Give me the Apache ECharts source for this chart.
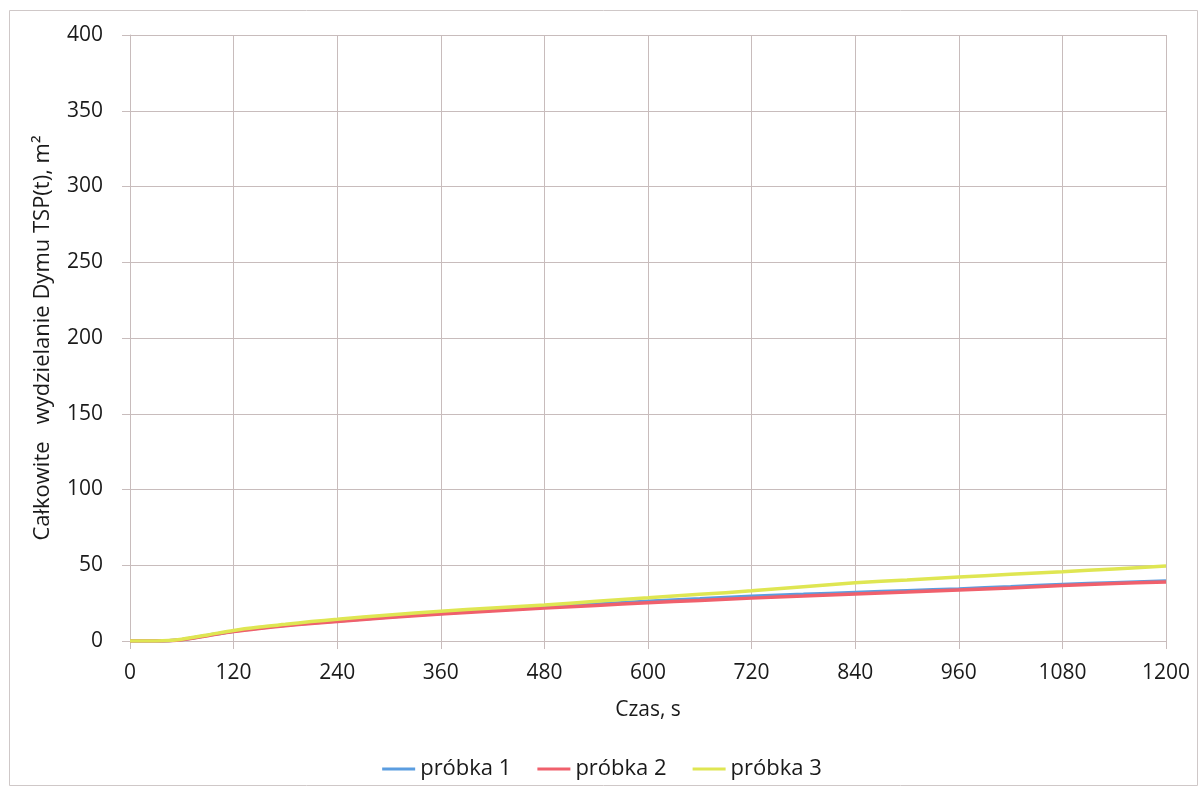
<!DOCTYPE html>
<html>
<head>
<meta charset="utf-8">
<script src="https://cdn.jsdelivr.net/npm/echarts@6/dist/echarts.min.js"></script>
<style>
  html, body { margin: 0; padding: 0; background: #ffffff; }
  #chart { width: 1204px; height: 790px; }
</style>
</head>
<body>
<div id="chart"></div>
<script>
// Time in seconds
const czas = [0, 30, 45, 60, 90, 120, 150, 180, 210, 240, 300, 360, 420, 480, 540, 600, 660, 720, 780, 840, 900, 960, 1020, 1080, 1140, 1200];

// Total smoke production TSP(t), m²
const probka1 = [0, 0, 0.2, 0.9, 3.7, 6.5, 8.6, 10.4, 11.9, 13.2, 15.9, 18.2, 20.3, 22.2, 24.2, 26.2, 27.9, 29.6, 30.8, 32.0, 33.2, 34.4, 35.8, 37.3, 38.5, 39.6];
const probka2 = [0, 0, 0.2, 0.8, 3.5, 6.2, 8.3, 10.1, 11.6, 12.9, 15.5, 17.8, 19.8, 21.7, 23.5, 25.3, 26.8, 28.3, 29.7, 31.1, 32.4, 33.7, 35.0, 36.6, 37.9, 39.0];
const probka3 = [0, 0, 0.3, 1.2, 4.0, 7.0, 9.2, 11.0, 12.8, 14.3, 17.2, 19.7, 21.8, 23.8, 26.2, 28.5, 30.8, 33.1, 35.8, 38.4, 40.3, 42.2, 44.0, 45.7, 47.6, 49.5];

const xTicks = [0, 120, 240, 360, 480, 600, 720, 840, 960, 1080, 1200];
const yTicks = [0, 50, 100, 150, 200, 250, 300, 350, 400];

const seriesNames = ['próbka 1', 'próbka 2', 'próbka 3'];
const seriesColors = ['#5b9de0', '#f0606c', '#dfe652'];

const FONT = '"Open Sans", "Noto Sans", sans-serif';
const gridColor = '#c8bcbc';

function pairs(ys) { return czas.map((t, i) => [t, ys[i]]); }

const chart = echarts.init(document.getElementById('chart'));
chart.setOption({
  animation: false,
  backgroundColor: '#ffffff',
  graphic: [{
    type: 'rect',
    shape: { x: 9.5, y: 10.5, width: 1188, height: 775 },
    style: { fill: 'none', stroke: '#cfc8c8', lineWidth: 1 },
    silent: true
  }],
  grid: { left: 130, right: 38, top: 35, bottom: 149 },
  xAxis: {
    type: 'value',
    min: xTicks[0],
    max: xTicks[xTicks.length - 1],
    interval: 120,
    name: 'Czas, s',
    nameLocation: 'middle',
    nameGap: 59,
    nameTextStyle: { fontFamily: FONT, fontSize: 21, color: '#1a1a1a' },
    axisLine: { show: true, lineStyle: { color: gridColor, width: 1 } },
    axisTick: { show: true, length: 8, lineStyle: { color: gridColor } },
    axisLabel: { fontFamily: FONT, fontSize: 21, color: '#1a1a1a', margin: 22,
      formatter: v => String(v) },
    splitLine: { show: true, lineStyle: { color: gridColor, width: 1 } }
  },
  yAxis: {
    type: 'value',
    min: yTicks[0],
    max: yTicks[yTicks.length - 1],
    interval: 50,
    name: 'Całkowite   wydzielanie Dymu TSP(t), m²',
    nameLocation: 'middle',
    nameGap: 76,
    nameTextStyle: { fontFamily: FONT, fontSize: 22, color: '#1a1a1a' },
    axisLine: { show: true, lineStyle: { color: gridColor, width: 1 } },
    axisTick: { show: true, length: 8, lineStyle: { color: gridColor } },
    axisLabel: { fontFamily: FONT, fontSize: 21, color: '#1a1a1a', margin: 27 },
    splitLine: { show: true, lineStyle: { color: gridColor, width: 1 } }
  },
  legend: {
    bottom: 5,
    left: 'center',
    itemWidth: 33,
    itemHeight: 3,
    itemGap: 26,
    icon: 'rect',
    textStyle: { fontFamily: FONT, fontSize: 22, color: '#1a1a1a', padding: [0, 0, 0, 0] },
    data: seriesNames
  },
  series: [
    { name: seriesNames[0], type: 'line', data: pairs(probka1), smooth: 0.3, showSymbol: false,
      color: seriesColors[0], lineStyle: { width: 3.5, color: seriesColors[0] } },
    { name: seriesNames[1], type: 'line', data: pairs(probka2), smooth: 0.3, showSymbol: false,
      color: seriesColors[1], lineStyle: { width: 3.5, color: seriesColors[1] } },
    { name: seriesNames[2], type: 'line', data: pairs(probka3), smooth: 0.3, showSymbol: false,
      color: seriesColors[2], lineStyle: { width: 3.5, color: seriesColors[2] } }
  ]
});
</script>
</body>
</html>
